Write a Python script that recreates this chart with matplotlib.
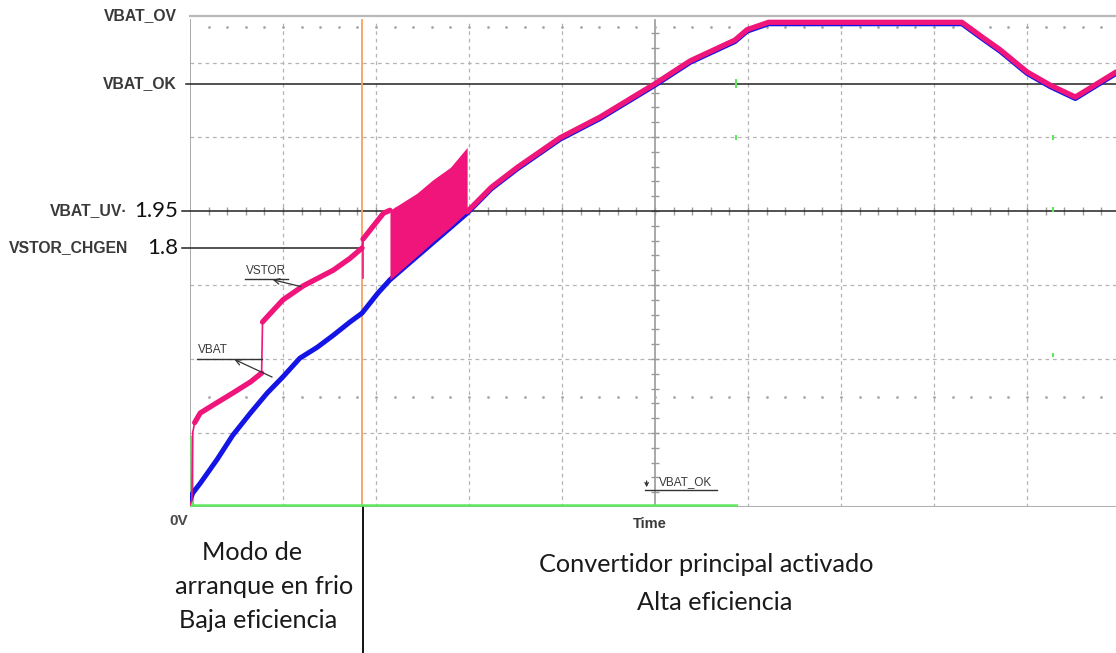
import numpy as np
import matplotlib.pyplot as plt
from matplotlib import transforms

# scope screen: time and voltage both in divisions
# VSTOR during cold start
t_cold = [0.0, 0.02, 0.03, 0.05, 0.11, 0.29, 0.46, 0.65, 0.77, 0.78, 0.83, 1.0, 1.22, 1.54, 1.72, 1.85]
vstor_cold = [0.03, 0.09, 1.01, 1.14, 1.27, 1.41, 1.54, 1.69, 1.81, 2.5, 2.57, 2.8, 2.99, 3.2, 3.36, 3.5]

# VSTOR right after the main converter starts
t_pre = [1.86, 2.08, 2.15]
vstor_pre = [3.62, 3.97, 4.01]

# fast ripple burst (envelope)
t_burst = [2.15, 2.44, 2.61, 2.80, 2.98]
burst_hi = [4.01, 4.24, 4.42, 4.59, 4.86]
burst_lo = [3.07, 3.39, 3.58, 3.78, 3.99]

# VSTOR after the burst
t_main = [2.98, 3.24, 3.52, 3.98, 4.41, 5.0, 5.38, 5.86, 5.99, 6.22, 8.3, 8.53, 8.71, 9.0, 9.25, 9.52, 9.96]
vstor_main = [3.99, 4.32, 4.59, 4.99, 5.27, 5.72, 6.03, 6.31, 6.45, 6.55, 6.55, 6.34, 6.18, 5.88, 5.70, 5.54, 5.88]

# VBAT
t_vbat = [0.0, 0.03, 0.11, 0.29, 0.46, 0.65, 0.83, 1.0, 1.18, 1.37, 1.54, 1.72, 1.85, 2.02, 2.15, 2.98,
          3.24, 3.52, 3.98, 4.41, 5.0, 5.38, 5.86, 5.99, 6.22, 8.3, 8.53, 8.71, 9.0, 9.25, 9.52, 9.96]
vbat = [0.09, 0.19, 0.32, 0.64, 0.97, 1.27, 1.54, 1.76, 2.01, 2.16, 2.32, 2.5, 2.62, 2.89, 3.07, 3.97,
        4.30, 4.57, 4.97, 5.25, 5.70, 6.01, 6.29, 6.43, 6.53, 6.53, 6.32, 6.16, 5.86, 5.68, 5.52, 5.86]

# VBAT_OK digital signal
t_ok = [0.0, 0.02, 0.02, 0.03, 5.88]
v_ok = [0.0, 0.0, 0.95, 0.02, 0.02]
blip_t = [5.87, 5.87, 9.28, 9.28, 9.28]
blip_lo = [5.66, 4.96, 4.96, 3.99, 2.03]
blip_hi = [5.78, 5.03, 5.03, 4.05, 2.08]

# threshold lines
ref_names = ['VBAT_OV', 'VBAT_OK', 'VBAT_UV', 'VSTOR_CHGEN']
ref_values = ['', '', '1.95', '1.8']
ref_levels = [6.635, 5.72, 4.0, 3.5]

t_switch = 1.85

PINK = '#f0157b'
BLUE = '#1414e6'
GREEN = '#5ee85e'
GRID = '#b4b4b4'

fig = plt.figure(figsize=(11.16, 6.53), dpi=100)
ax = fig.add_axes([190 / 1116, 146 / 653, 926 / 1116, 491 / 653])
ax.set_xlim(0, 926 / 93)
ax.set_ylim(0, 491 / 74)
ax.axis('off')

top = 6.58
# grid
for gx in range(1, 10):
    if gx == 5:
        continue
    ax.plot([gx, gx], [0, top], color=GRID, lw=0.9, ls=(0, (3, 3)), zorder=1)
for gy in [1, 2, 3, 5, 6]:
    ax.plot([0, 926 / 93], [gy, gy], color=GRID, lw=0.9, ls=(0, (3, 3)), zorder=1)
# centre lines with small ticks
ax.plot([5, 5], [0, top], color='#9a9a9a', lw=1.2, zorder=1)
ticks_y = np.arange(0.2, top, 0.2)
ax.plot(np.full_like(ticks_y, 5), ticks_y, ls='none', marker='_', ms=6, color='#9a9a9a', zorder=1)
ticks_x = np.arange(0.2, 926 / 93, 0.2)
ax.plot(ticks_x, np.full_like(ticks_x, 4), ls='none', marker='|', ms=6, color='#9a9a9a', zorder=1)
for row in [6.49, 1.49]:
    ax.plot(ticks_x, np.full_like(ticks_x, row), ls='none', marker='.', ms=2, color='#a8a8a8', zorder=1)

# frame
ax.plot([0, 0], [0, top], color='#9a9a9a', lw=1.2, zorder=2)
ax.plot([0, 926 / 93], [0, 0], color='#b0b0b0', lw=1.5, zorder=2)

# threshold lines
lbl_tr = transforms.blended_transform_factory(fig.transFigure, ax.transData)
ax.plot([0, 926 / 93], [ref_levels[0]] * 2, color='#b8b8b8', lw=1.6, clip_on=False, zorder=2)
ax.plot([-0.04, 926 / 93], [ref_levels[1]] * 2, color='#222222', lw=1.1, clip_on=False, zorder=2)
ax.plot([-0.09, 926 / 93], [ref_levels[2]] * 2, color='#222222', lw=1.1, clip_on=False, zorder=2)
ax.plot([-0.09, t_switch], [ref_levels[3]] * 2, color='#222222', lw=1.1, clip_on=False, zorder=2)

lbl_kw = dict(family='Liberation Sans', weight='bold', fontsize=11.3, color='#3a3a3a', va='center', ha='right')
ax.text(177 / 1116, ref_levels[0], ref_names[0], transform=lbl_tr, **lbl_kw)
ax.text(177 / 1116, ref_levels[1], ref_names[1], transform=lbl_tr, **lbl_kw)
ax.text(128 / 1116, ref_levels[2], ref_names[2] + '\u00b7', transform=lbl_tr, **lbl_kw)
ax.text(128 / 1116, ref_levels[3], ref_names[3], transform=lbl_tr, **lbl_kw)
num_kw = dict(family='Lato', fontsize=16, color='#111111', va='center', ha='right')
ax.text(178 / 1116, ref_levels[2], ref_values[2], transform=lbl_tr, **num_kw)
ax.text(178 / 1116, ref_levels[3], ref_values[3], transform=lbl_tr, **num_kw)

fig.text(188 / 1116, 1 - 521 / 653, '0V', family='Liberation Sans', weight='bold', fontsize=11,
         color='#4a4a4a', ha='right', va='center')
fig.text(650 / 1116, 1 - 524 / 653, 'Time', family='Liberation Sans', weight='bold', fontsize=10.5,
         color='#3a3a3a', ha='center', va='center')

# switch marker
ax.plot([t_switch, t_switch], [0, top], color='#f4a261', lw=1.3, zorder=2)
ax.plot([t_switch + 0.01] * 2, [0, -146 / 74], color='black', lw=1.3, clip_on=False, zorder=2)

# traces
ax.plot(t_ok, v_ok, color=GREEN, lw=1.8, zorder=3)
ax.vlines(blip_t, blip_lo, blip_hi, color=GREEN, lw=1.5, zorder=3)
ax.plot(t_vbat, vbat, color=BLUE, lw=3.6, solid_capstyle='round', zorder=4)

ax.plot(t_cold, vstor_cold, color=PINK, lw=1.2, zorder=5)
ax.plot(t_cold[3:9], vstor_cold[3:9], color=PINK, lw=3.8, solid_capstyle='round', zorder=5)
ax.plot(t_cold[9:], vstor_cold[9:], color=PINK, lw=3.8, solid_capstyle='round', zorder=5)
ax.plot([t_cold[-1], t_pre[0]], [vstor_cold[-1], vstor_pre[0]], color=PINK, lw=1.2, zorder=5)
ax.plot([t_pre[0], t_pre[0]], [vstor_pre[0], 3.09], color=PINK, lw=1.2, zorder=5)
ax.plot(t_pre, vstor_pre, color=PINK, lw=3.8, solid_capstyle='round', zorder=5)
ax.fill_between(t_burst, burst_lo, burst_hi, color=PINK, lw=0, zorder=5)
ax.plot(t_main, vstor_main, color=PINK, lw=3.8, solid_capstyle='round', zorder=5)

# trace labels
note_kw = dict(family='Liberation Sans', fontsize=8.5, color='#3a3a3a', ha='center', va='center')
ax.text(0.82, 3.19, 'VSTOR', **note_kw)
ax.plot([0.59, 1.05], [3.08, 3.08], color='#333333', lw=1.0, zorder=6)
ax.annotate('', xy=(0.86, 3.08), xytext=(1.22, 2.97),
            arrowprops=dict(arrowstyle='->', color='#333333', lw=0.9), zorder=6)
ax.text(0.25, 2.12, 'VBAT', **note_kw)
ax.plot([0.08, 0.77], [2.0, 2.0], color='#333333', lw=1.0, zorder=6)
ax.annotate('', xy=(0.45, 2.01), xytext=(0.91, 1.74),
            arrowprops=dict(arrowstyle='->', color='#333333', lw=0.9), zorder=6)
ax.text(5.33, 0.34, 'VBAT_OK', **note_kw)
ax.plot([4.89, 5.67], [0.23, 0.23], color='#333333', lw=1.0, zorder=6)
ax.annotate('', xy=(4.91, 0.23), xytext=(4.91, 0.39),
            arrowprops=dict(arrowstyle='->', color='#333333', lw=0.9, mutation_scale=6), zorder=6)

# region captions
cap_kw = dict(family='Lato', fontsize=18.2, color='#1a1a1a', ha='center', va='center')
fig.text(252 / 1116, 1 - 553 / 653, 'Modo de', **cap_kw)
fig.text(264 / 1116, 1 - 587 / 653, 'arranque en frio', **cap_kw)
fig.text(258 / 1116, 1 - 620 / 653, 'Baja eficiencia', **cap_kw)
fig.text(706 / 1116, 1 - 565 / 653, 'Convertidor principal activado', **cap_kw)
fig.text(715 / 1116, 1 - 603 / 653, 'Alta eficiencia', **cap_kw)

fig.savefig('out.png', dpi=100, facecolor='white')
